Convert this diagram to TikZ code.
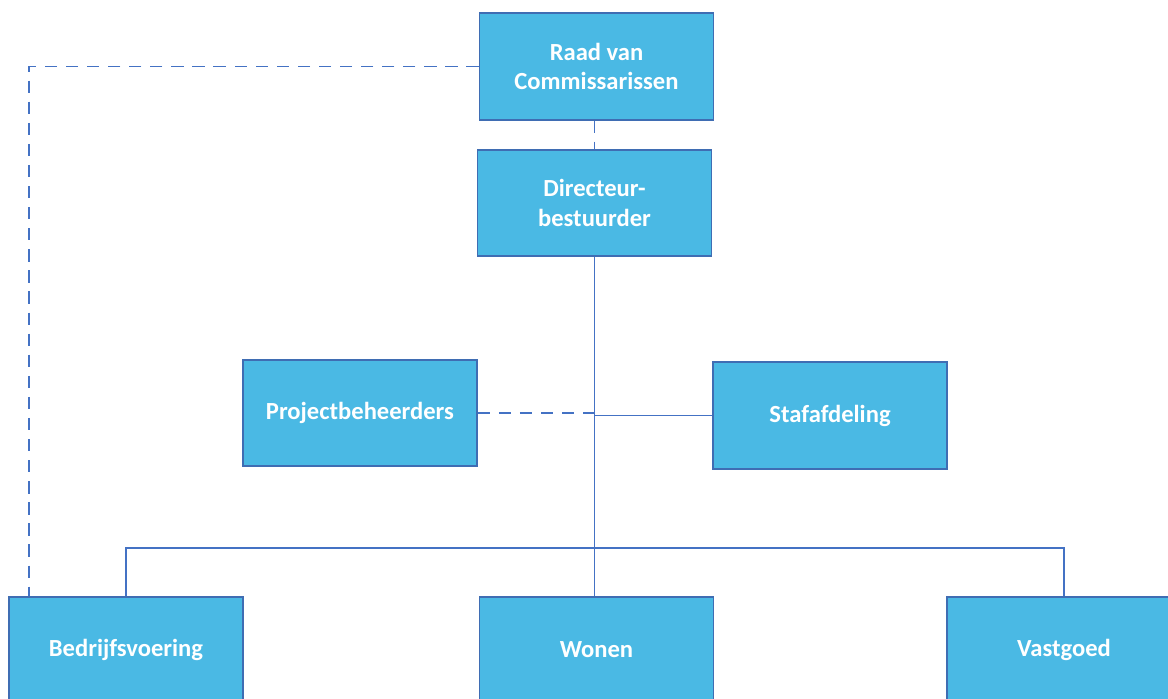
\documentclass[tikz,border=0pt]{standalone}
\usepackage{fontspec}
\setmainfont{Carlito}
\usetikzlibrary{positioning,calc}
\definecolor{boxfill}{HTML}{4AB9E4}
\definecolor{boxline}{HTML}{3F6DB3}
\definecolor{linkline}{HTML}{4472C4}

\begin{document}
\begin{tikzpicture}[x=0.02cm,y=-0.02cm,
	unit/.style={draw=boxline, fill=boxfill, line width=0.9pt, minimum width=4.68cm, minimum height=2.13cm, align=center, text=white, font=\fontsize{14}{16.8}\selectfont\bfseries, inner sep=0pt},
	link/.style={draw=linkline, line width=1pt},
	dlink/.style={draw=linkline, line width=1pt, dash pattern=on 7pt off 5pt}]
	\clip (0,0) rectangle (1168,698);
	\useasboundingbox (0,0) rectangle (1168,698);
	% top
	\node[unit] (raad) at (596.5,66.5) {Raad van\\Commissarissen};
	\node[unit] (dir) at (594.5,203) {Directeur-\\bestuurder};
	% middle
	\node[unit] (proj) at (360,413) {Projectbeheerders};
	\node[unit] (staf) at (830,415.5) {Stafafdeling};
	% bottom
	\node[unit] (bedr) at (126,650) {Bedrijfsvoering};
	\node[unit] (won) at (596.5,650) {Wonen};
	\node[unit] (vast) at (1064,650) {Vastgoed};
	\coordinate (bus) at (594,548);
	\coordinate (left) at (29,66.5);
	% links
	\draw[dlink] (raad.south -| dir.south) -- (dir.north);
	\draw[dlink] (raad.west) -- (left) -- (left |- bedr.north);
	\draw[link] (dir.south) -- (dir.south |- won.north);
	\draw[dlink] (proj.east) -- (proj.east -| dir.south);
	\draw[link] (staf.west) -- (staf.west -| dir.south);
	\draw[link] (bedr.north) -- (bedr.north |- bus) -- (vast.north |- bus) -- (vast.north);
\end{tikzpicture}
\end{document}
